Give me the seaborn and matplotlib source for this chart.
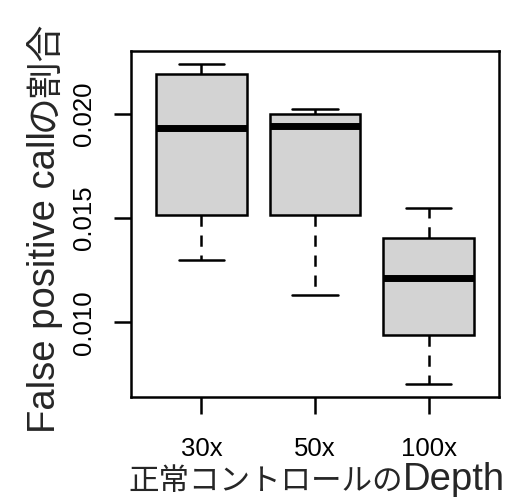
import matplotlib
matplotlib.use("Agg")
import matplotlib.pyplot as plt
import seaborn as sns
import pandas as pd

# ---- data (five-number summaries) ----
depth = ["30x", "50x", "100x"]
lower_whisker = [0.01298, 0.01130, 0.00703]
q1 = [0.01515, 0.01515, 0.00941]
median = [0.01931, 0.01941, 0.01214]
q3 = [0.02193, 0.02001, 0.01403]
upper_whisker = [0.02241, 0.02024, 0.01547]
yticks = [0.010, 0.015, 0.020]
ytick_labels = ["0.010", "0.015", "0.020"]

rows = []
for i, d in enumerate(depth):
    for v in (lower_whisker[i], q1[i], median[i], q3[i], upper_whisker[i]):
        rows.append({"depth": d, "value": v})
df = pd.DataFrame(rows)

sns.set_theme(style="white")
plt.rcParams["font.family"] = ["Liberation Sans", "Noto Sans CJK JP"]

W, H = 505, 497
fig = plt.figure(figsize=(W / 100, H / 100), dpi=100)
ax = fig.add_axes([131 / W, 1 - 397 / H, (499 - 131) / W, (397 - 51) / H])

lw = 1.8
sns.boxplot(
    data=df, x="depth", y="value", order=depth, ax=ax,
    color="#D3D3D3", saturation=1, width=0.8, linecolor="black", linewidth=lw,
    showfliers=False,
    whiskerprops=dict(linestyle=(0, (4.5, 3.5)), linewidth=lw, color="black"),
    capprops=dict(linewidth=lw, color="black"),
    medianprops=dict(linewidth=5, color="black", solid_capstyle="butt"),
    boxprops=dict(linewidth=lw, edgecolor="black"),
)

ax.set_xlim(-0.62, 2.62)
ax.set_ylim(0.006415, 0.023025)
ax.set_yticks(yticks)
ax.set_yticklabels(ytick_labels)
ax.set_xticks(range(len(depth)))
ax.set_xticklabels(depth)
ax.set_xlabel("")
ax.set_ylabel("")
for s in ax.spines.values():
    s.set_visible(True)
    s.set_color("black")
    s.set_linewidth(lw)
ax.tick_params(axis="both", which="major", direction="out", length=12, width=lw,
               color="black", labelsize=18.5, labelcolor="black",
               left=True, bottom=True)
ax.tick_params(axis="x", pad=17)
ax.tick_params(axis="y", labelrotation=90, pad=13.5)
plt.setp(ax.get_yticklabels(), va="center")

# ---- axis titles (Latin and Japanese parts in different sizes) ----
fig.canvas.draw()
r = fig.canvas.get_renderer()
latin_size = 27.5
cjk_family = ["Noto Sans CJK JP", "DejaVu Sans"]
latin_family = ["Liberation Sans", "DejaVu Sans"]

# x label
xl1 = fig.text(0, 0, "正常コントロールの", fontsize=22, family=cjk_family,
               ha="left", va="baseline")
xl2 = fig.text(0, 0, "Depth", fontsize=latin_size, family=latin_family,
               ha="left", va="baseline")
w1 = xl1.get_window_extent(r).width
w2 = xl2.get_window_extent(r).width
cx = (131 + 499) / 2 + 2
x0 = cx - (w1 + w2) / 2
base_y = 1 - 490 / H
xl1.set_position((x0 / W, base_y))
xl2.set_position(((x0 + w1) / W, base_y))

# y label
yl1 = fig.text(0, 0, "False positive call", fontsize=latin_size, family=latin_family,
               rotation=90, rotation_mode="anchor", ha="left", va="baseline")
yl2 = fig.text(0, 0, "の割合", fontsize=26.5, family=cjk_family,
               rotation=90, rotation_mode="anchor", ha="left", va="baseline")
h1 = yl1.get_window_extent(r).height
h2 = yl2.get_window_extent(r).height
cy = (15 + 438) / 2  # pixel from top
y0_top = cy + (h1 + h2) / 2  # bottom start, from top
bx = 55 / W
yl1.set_position((bx, 1 - y0_top / H))
yl2.set_position((bx, 1 - (y0_top - h1) / H))

fig.savefig("out.png", dpi=100)
